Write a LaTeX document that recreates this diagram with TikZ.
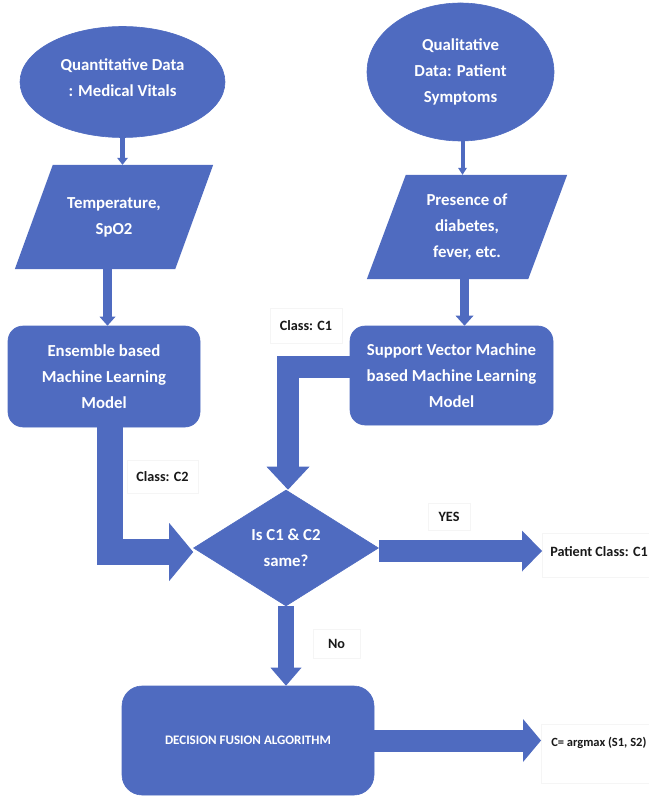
\documentclass[tikz,border=0pt]{standalone}
\usepackage{fontspec}
\setmainfont{Carlito}
\usetikzlibrary{shapes.geometric,arrows.meta,backgrounds}
\definecolor{fb}{RGB}{79,107,192}
\begin{document}
\begin{tikzpicture}[x=1pt,y=-1pt,
  shp/.style={fill=fb, draw=fb, line width=0.6pt, text=white, align=center, inner sep=0pt, font=\bfseries\fontsize{16.8}{26}\selectfont},
  ell/.style={shp, ellipse},
  rbox/.style={shp, rectangle, rounded corners=15pt},
  ptext/.style={text=white, align=center, inner sep=0pt, font=\bfseries\fontsize{16.8}{26}\selectfont, minimum width=122pt, minimum height=104pt},
  lbl/.style={fill=white, draw=black!4, line width=0.5pt, text=black!90, inner sep=0pt, font=\bfseries\fontsize{14.2}{17}\selectfont},
  conn/.style={draw=fb, line width=#1},
]
\useasboundingbox (0,0) rectangle (648,799);

% shapes
\node[ell, minimum width=205pt, minimum height=111pt] (e1) at (122.5,82) {Quantitative Data\\: Medical Vitals\\[-17pt]};
\node[ell, minimum width=187pt, minimum height=138pt] (e2) at (460.5,72) {Qualitative\\Data: Patient\\Symptoms};
\node[ptext] (p1) at (114,217) {Temperature,\\SpO2};
\node[ptext] (p2) at (467,227) {Presence of\\diabetes,\\fever, etc.};
\begin{pgfonlayer}{background}
\fill[fb] (p1.north west) -- ([xshift=38pt]p1.north east) -- (p1.south east) -- ([xshift=-38pt]p1.south west) -- cycle;
\fill[fb] (p2.north west) -- ([xshift=39pt]p2.north east) -- (p2.south east) -- ([xshift=-39pt]p2.south west) -- cycle;
\end{pgfonlayer}
\node[rbox, minimum width=192pt, minimum height=101pt] (r1) at (104,376.5) {Ensemble based\\Machine Learning\\Model};
\node[rbox, minimum width=203pt, minimum height=99pt] (r2) at (451.5,375.5) {Support Vector Machine\\based Machine Learning\\Model};
\node[shp, diamond, aspect=1.6, minimum width=185pt, minimum height=116pt] (dia) at (286,548) {Is C1 \& C2\\same?};
\node[rbox, rounded corners=20pt, minimum width=252pt, minimum height=109pt, font=\bfseries\fontsize{13}{15}\selectfont] (r3) at (248,740.5) {DECISION FUSION ALGORITHM};

% label nodes
\node[lbl, minimum width=72pt, minimum height=35pt] (lc1) at (306,325.5) {Class: C1};
\node[lbl, minimum width=71pt, minimum height=33pt] (lc2) at (162.5,476.5) {Class: C2};
\node[lbl, minimum width=42pt, minimum height=27pt] (lyes) at (449,516.5) {YES};
\node[lbl, minimum width=47pt, minimum height=29pt] (lno) at (336.5,643.5) {No};
\node[lbl, anchor=base west, inner xsep=8pt, inner ysep=10pt, text height=13.5pt, text depth=10.5pt] (lpc) at (542,556.5) {Patient Class: C1};
\node[lbl, anchor=base west, inner xsep=10pt, inner ysep=10pt, text height=12pt, text depth=27pt, font=\bfseries\fontsize{12.5}{15}\selectfont] (lc) at (541,746) {C= argmax (S1, S2)};

% connectors
\draw[conn=5.5pt, -{Triangle[width=11pt,length=7pt,line width=0pt]}] (e1.south) -- (e1.south |- p1.north);
\draw[conn=4pt, -{Triangle[width=9pt,length=7pt,line width=0pt]}] ([xshift=2pt]e2.south) -- ([xshift=2pt]e2.south |- p2.north);
\draw[conn=9pt, -{Triangle[width=16pt,length=9pt,line width=0pt]}] ([xshift=-6.5pt]p1.south) -- ([xshift=-6.5pt]p1.south |- r1.north);
\draw[conn=9pt, -{Triangle[width=18pt,length=10pt,line width=0pt]}] ([xshift=-2.5pt]p2.south) -- ([xshift=-2.5pt]p2.south |- r2.north);
\draw[conn=26pt, -{Triangle[width=58pt,length=24pt,line width=0pt]}] ([xshift=6pt]r1.south) |- ([yshift=-4pt]dia.west);
\draw[conn=22pt, -{Triangle[width=43pt,length=23pt,line width=0pt]}] ([yshift=8.5pt]r2.west) -| ([xshift=2pt]dia.north);
\draw[conn=22pt, -{Triangle[width=41pt,length=20pt,line width=0pt]}] ([yshift=-3pt]dia.east) -- ([yshift=-3pt]dia.east -| lpc.west);
\draw[conn=16pt, -{Triangle[width=31pt,length=18pt,line width=0pt]}] (dia.south) -- (dia.south |- r3.north);
\draw[conn=22pt, -{Triangle[width=43pt,length=18pt,line width=0pt]}] (r3.east) -- (r3.east -| lc.west);
\end{tikzpicture}
\end{document}
